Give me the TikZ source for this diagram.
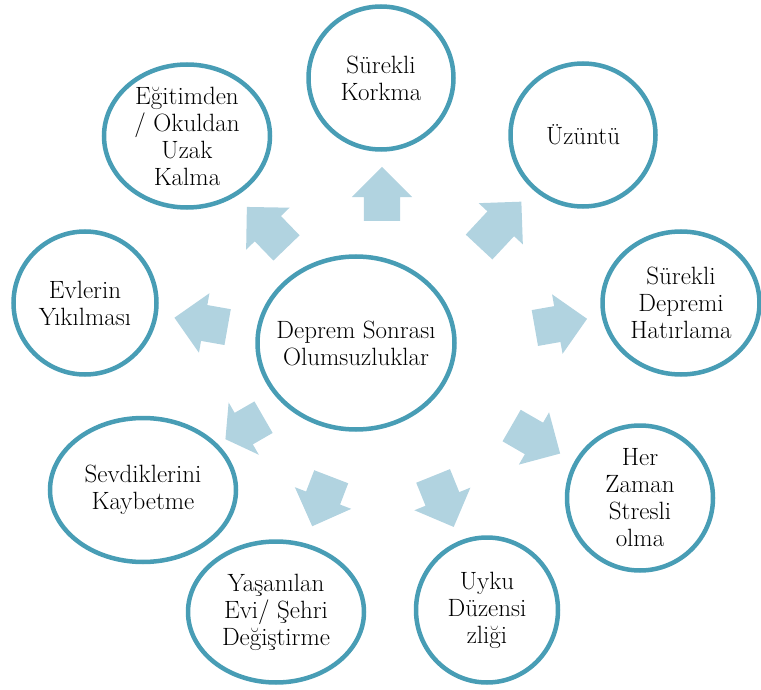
\documentclass[tikz,border=0pt]{standalone}
\usepackage{fontspec}
\usetikzlibrary{shapes.geometric,shapes.arrows}
\definecolor{halka}{RGB}{72,157,181}
\definecolor{okrenk}{RGB}{177,211,224}
\begin{document}
\begin{tikzpicture}[x=1pt,y=-1pt,
    daire/.style={ellipse,draw=halka,line width=4.5pt,fill=white,inner sep=-12pt,align=center,
        font=\fontsize{25}{27}\selectfont},
    okucu/.style={single arrow,fill=okrenk,draw=none,inner xsep=0pt,inner ysep=18pt,
        single arrow head extend=12pt,minimum height=#1}]
    \useasboundingbox (0,0) rectangle (761,690);
    \node[okucu=54pt,rotate=90](ok1) at (382,203){};
    \node[okucu=62pt,rotate=47](ok2) at (494,231){};
    \node[okucu=53pt,rotate=10](ok3) at (552,325){};
    \node[okucu=56pt,rotate=-30](ok4) at (528,435){};
    \node[okucu=55pt,rotate=-68](ok5) at (440,493){};
    \node[okucu=53pt,rotate=-111](ok6) at (325,493){};
    \node[okucu=44pt,rotate=210,single arrow tip angle=110](ok7) at (250,425){};
    \node[okucu=54pt,rotate=170](ok8) at (210,324){};
    \node[okucu=57pt,rotate=134](ok9) at (273,234){};
    \node[daire,minimum width=197pt,minimum height=173pt](merkez) at (356,343){Deprem Sonrası\\Olumsuzluklar};
    \node[daire,minimum width=145pt,minimum height=143pt](korkma) at (381,78){Sürekli\\Korkma};
    \node[daire,minimum width=145pt,minimum height=143pt](uzuntu) at (583,135){Üzüntü};
    \node[daire,minimum width=157pt,minimum height=143pt](hatirlama) at (681,303){Sürekli\\Depremi\\Hatırlama};
    \node[daire,minimum width=146pt,minimum height=145pt](stres) at (640,498){Her\\Zaman\\Stresli\\olma};
    \node[daire,minimum width=142pt,minimum height=145pt](uyku) at (487,610){Uyku\\Düzensi\\zliği};
    \node[daire,minimum width=176pt,minimum height=141pt](yasam) at (276,612){Yaşanılan\\Evi/ Şehri\\Değiştirme};
    \node[daire,minimum width=186pt,minimum height=144pt](sevdik) at (143,490){Sevdiklerini\\Kaybetme};
    \node[daire,minimum width=143pt,minimum height=143pt](evler) at (85,303){Evlerin\\Yıkılması};
    \node[daire,minimum width=166pt,minimum height=143pt](egitim) at (187,136){Eğitimden\\/ Okuldan\\Uzak\\Kalma};
\end{tikzpicture}
\end{document}
